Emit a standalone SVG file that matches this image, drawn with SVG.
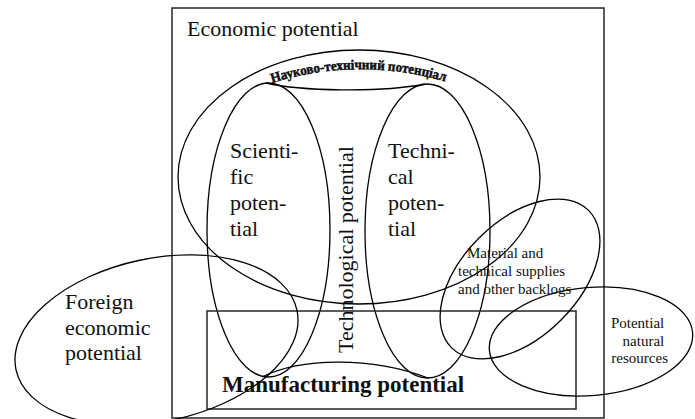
<svg xmlns="http://www.w3.org/2000/svg" width="695" height="419" viewBox="0 0 695 419">
  <style>
    .shape{fill:none;stroke:#000;stroke-width:1.3}
    .frame{fill:none;stroke:#333;stroke-width:1.6}
    .t{font-family:"Liberation Serif","Times New Roman",serif;fill:#111}
    .big{font-size:22px}
    .small{font-size:15px}
    .arc{font-size:14px;font-weight:bold;stroke:#000;stroke-width:0.45}
  </style>
  <defs>
    <path id="arcLabel" d="M272,83 Q358,56 447,82" fill="none"/>
  </defs>
  <rect width="695" height="419" fill="#fff"/>

  <g id="economic-potential">
    <rect class="frame" x="172" y="8" width="432" height="410"/>
    <text class="t big" x="187" y="36">Economic potential</text>
  </g>

  <g id="scientific-technical-potential">
    <ellipse class="shape" cx="359" cy="177" rx="181" ry="127"/>
    <text class="t arc"><textPath href="#arcLabel" textLength="176" lengthAdjust="spacingAndGlyphs">Науково-технічний потенціал</textPath></text>
  </g>

  <g id="scientific-potential">
    <ellipse class="shape" cx="268.5" cy="230" rx="61.5" ry="147"/>
    <text class="t big">
      <tspan x="230" y="158">Scienti-</tspan>
      <tspan x="230" y="184">fic</tspan>
      <tspan x="230" y="210">poten-</tspan>
      <tspan x="230" y="236">tial</tspan>
    </text>
  </g>

  <g id="technical-potential">
    <ellipse class="shape" cx="427.5" cy="231" rx="62.5" ry="147"/>
    <text class="t big">
      <tspan x="388" y="158">Techni-</tspan>
      <tspan x="388" y="184">cal</tspan>
      <tspan x="388" y="210">poten-</tspan>
      <tspan x="388" y="236">tial</tspan>
    </text>
  </g>

  <g id="connectors">
    <path class="shape" d="M266,83 C300,91 380,93 425,84"/>
    <path class="shape" d="M262,377 C300,358 370,356 428,378"/>
  </g>

  <g id="technological-potential">
    <text class="t big" transform="translate(353,353) rotate(-90)">Technological potential</text>
  </g>

  <g id="manufacturing-potential">
    <rect class="frame" x="207" y="311" width="369" height="98"/>
    <text class="t" font-size="23" font-weight="bold" x="222" y="392">Manufacturing potential</text>
  </g>

  <g id="foreign-economic-potential">
    <ellipse class="shape" cx="156.5" cy="340" rx="143.6" ry="81.5" transform="rotate(-11.9 156.5 340)"/>
    <text class="t big">
      <tspan x="65" y="309">Foreign</tspan>
      <tspan x="65" y="335">economic</tspan>
      <tspan x="65" y="360">potential</tspan>
    </text>
  </g>

  <g id="material-supplies">
    <ellipse class="shape" cx="520" cy="279" rx="97" ry="58" transform="rotate(-45 520 279)"/>
    <text class="t small">
      <tspan x="467" y="258">Material and</tspan>
      <tspan x="458" y="276">technical supplies</tspan>
      <tspan x="458" y="294">and other backlogs</tspan>
    </text>
  </g>

  <g id="natural-resources">
    <ellipse class="shape" cx="591" cy="341.5" rx="102" ry="54" transform="rotate(-5 591 341.5)"/>
    <text class="t small" text-anchor="end">
      <tspan x="668" y="328">Potential</tspan>
      <tspan x="668" y="346">natural</tspan>
      <tspan x="668" y="363">resources</tspan>
    </text>
  </g>
</svg>
